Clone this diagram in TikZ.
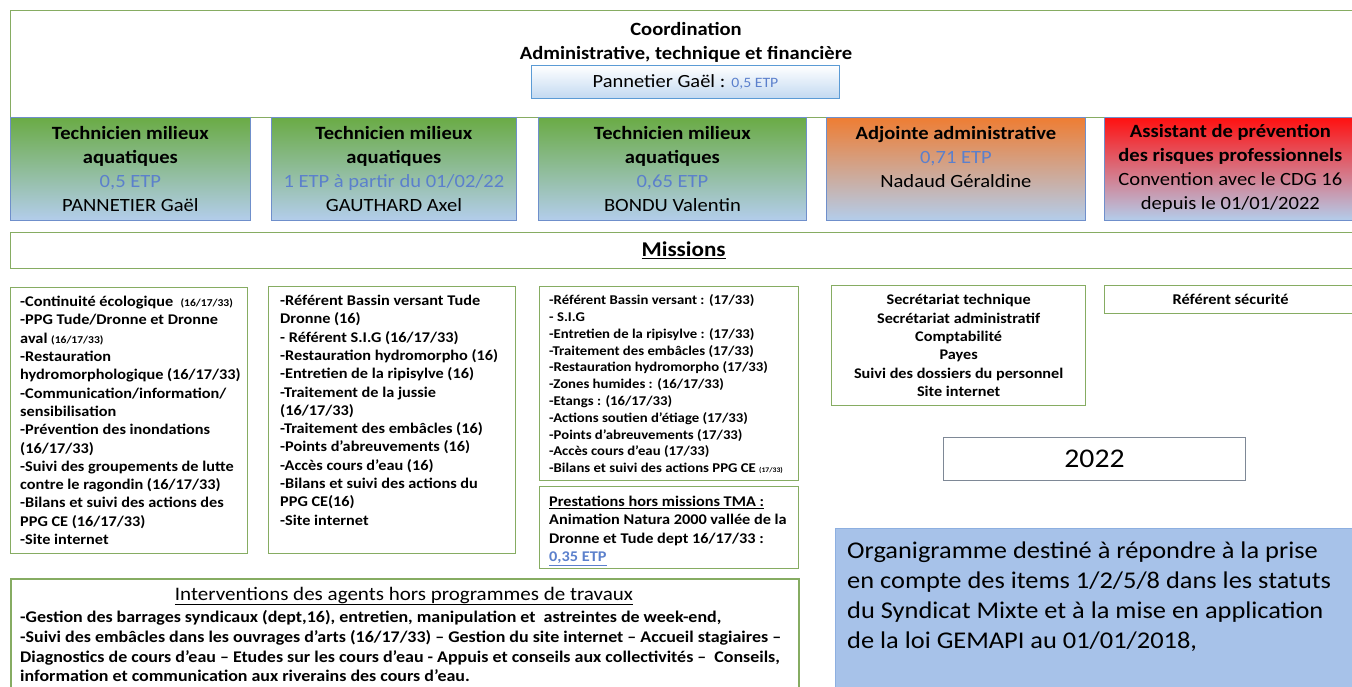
\documentclass[tikz,border=0pt]{standalone}
\usepackage{fontspec}
\setmainfont{Carlito}[FakeStretch=1.1]
\definecolor{cadregreen}{HTML}{86AC62}
\definecolor{roleborder}{HTML}{6F8FCB}
\definecolor{rolegreen}{HTML}{6AAB45}
\definecolor{roleorange}{HTML}{EE7D33}
\definecolor{rolered}{HTML}{FF1010}
\definecolor{rolebleu}{HTML}{B3CDEB}
\definecolor{etpblue}{HTML}{5B80CC}
\definecolor{panborder}{HTML}{5B9BD5}
\definecolor{panbleu}{HTML}{C2D9F1}
\definecolor{notebleu}{HTML}{A7C2E9}
\definecolor{noteborder}{HTML}{8DAFE0}
\definecolor{yeargray}{HTML}{7E8896}
\tikzset{
  cadre/.style={draw=cadregreen, line width=1.3pt, fill=white, anchor=north west, inner sep=0pt},
  role/.style={draw=roleborder, line width=0.8pt, anchor=north west, align=center,
    top color=#1, bottom color=rolebleu, inner sep=0pt, font=\fontsize{18.7}{24}\selectfont},
  listtext/.style={anchor=north west, align=left, inner sep=0pt, font=\bfseries\fontsize{14.8}{18.3}\selectfont},
}
\begin{document}
\begin{tikzpicture}[x=1pt,y=-1pt]
    \fill[white] (0,0) rectangle (1352,686);
    \useasboundingbox (0,0) rectangle (1352,686);

    % Coordination
    \node[cadre, minimum width=1346, minimum height=107] (coord) at (10,10) {};
    \node[align=center, inner sep=0pt, font=\bfseries\fontsize{18.7}{24}\selectfont] (coordtitre) at (686,42)
        {Coordination\\Administrative, technique et financière};
    \node[draw=panborder, line width=1pt, top color=white, bottom color=panbleu, anchor=north west,
        minimum width=308, minimum height=33, font=\fontsize{18.6}{20}\selectfont] (pannetier) at (531,65)
        {Pannetier Gaël : {\color{etpblue}\fontsize{14.3}{20}\selectfont 0,5 ETP}};

    % Postes
    \node[role=rolegreen, minimum width=240, minimum height=103] (tech1) at (10,117)
        {\textbf{Technicien milieux}\\\textbf{aquatiques}\\{\color{etpblue}0,5 ETP}\\PANNETIER Gaël};
    \node[role=rolegreen, minimum width=245, minimum height=103] (tech2) at (271,117)
        {\textbf{Technicien milieux}\\\textbf{aquatiques}\\{\color{etpblue}1 ETP à partir du 01/02/22}\\GAUTHARD Axel};
    \node[role=rolegreen, minimum width=268, minimum height=103] (tech3) at (538,117)
        {\textbf{Technicien milieux}\\\textbf{aquatiques}\\{\color{etpblue}0,65 ETP}\\BONDU Valentin};
    \node[role=roleorange, minimum width=259, minimum height=103] (adjointe) at (826,117)
        {\textbf{Adjointe administrative}\\{\color{etpblue}0,71 ETP}\\Nadaud Géraldine\\~};
    \node[role=rolered, minimum width=252, minimum height=103] (assistant) at (1104,117)
        {\textbf{Assistant de prévention}\\\textbf{des risques professionnels}\\Convention avec le CDG 16\\depuis le 01/01/2022};

    % Missions
    \node[cadre, minimum width=1346, minimum height=36, font=\bfseries\fontsize{21}{22}\selectfont] (missions) at (10,232)
        {\underline{Missions}};

    \node[cadre, minimum width=237, minimum height=266] (miss1) at (10,287) {};
    \node[listtext] (miss1txt) at (20,296)
        {-Continuité écologique\ \ {\fontsize{10.5}{18.3}\selectfont(16/17/33)}\\
        -PPG Tude/Dronne et Dronne\\
        aval {\fontsize{10.5}{18.3}\selectfont(16/17/33)}\\
        -Restauration\\
        hydromorphologique (16/17/33)\\
        -Communication/information/\\
        sensibilisation\\
        -Prévention des inondations\\
        (16/17/33)\\
        -Suivi des groupements de lutte\\
        contre le ragondin (16/17/33)\\
        -Bilans et suivi des actions des\\
        PPG CE (16/17/33)\\
        -Site internet};

    \node[cadre, minimum width=247, minimum height=267] (miss2) at (268,286) {};
    \node[listtext] (miss2txt) at (280,295)
        {-Référent Bassin versant Tude\\
        Dronne (16)\\
        - Référent S.I.G (16/17/33)\\
        -Restauration hydromorpho (16)\\
        -Entretien de la ripisylve (16)\\
        -Traitement de la jussie\\
        (16/17/33)\\
        -Traitement des embâcles (16)\\
        -Points d’abreuvements (16)\\
        -Accès cours d’eau (16)\\
        -Bilans et suivi des actions du\\
        PPG CE(16)\\
        -Site internet};

    \node[cadre, minimum width=259, minimum height=194] (miss3) at (539,286) {};
    \node[listtext, font=\bfseries\fontsize{13.4}{16.8}\selectfont] (miss3txt) at (549,294.5)
        {-Référent Bassin versant : (17/33)\\
        - S.I.G\\
        -Entretien de la ripisylve : (17/33)\\
        -Traitement des embâcles (17/33)\\
        -Restauration hydromorpho (17/33)\\
        -Zones humides : (16/17/33)\\
        -Etangs : (16/17/33)\\
        -Actions soutien d’étiage (17/33)\\
        -Points d’abreuvements (17/33)\\
        -Accès cours d’eau (17/33)\\
        -Bilans et suivi des actions PPG CE {\fontsize{7}{16.8}\selectfont(17/33)}};

    \node[cadre, minimum width=259, minimum height=82] (tma) at (539,486) {};
    \node[listtext] (tmatxt) at (549,496)
        {\underline{Prestations hors missions TMA :}\\
        Animation Natura 2000 vallée de la\\
        Dronne et Tude dept 16/17/33 :\\
        {\color{etpblue}\underline{0,35 ETP}}};

    \node[cadre, minimum width=254, minimum height=120, align=center, font=\bfseries\fontsize{14.75}{18.4}\selectfont] (secretariat) at (831,285)
        {Secrétariat technique\\Secrétariat administratif\\Comptabilité\\Payes\\Suivi des dossiers du personnel\\Site internet};
    \node[cadre, minimum width=252, minimum height=28, font=\bfseries\fontsize{14.9}{16}\selectfont] (securite) at (1104,285)
        {Référent sécurité};

    % Annee
    \node[draw=yeargray, line width=1pt, anchor=north west, minimum width=302, minimum height=43,
        font=\fontsize{27}{30}\selectfont] (annee) at (943,437) {2022};

    % Note
    \node[draw=noteborder, line width=1pt, fill=notebleu, anchor=north west, minimum width=521, minimum height=162] (note) at (835,528) {};
    \node[anchor=north west, align=left, inner sep=0pt, font=\fontsize{24}{30}\selectfont] (notetxt) at (847,542)
        {Organigramme destiné à répondre à la prise\\
        en compte des items 1/2/5/8 dans les statuts\\
        du Syndicat Mixte et à la mise en application\\
        de la loi GEMAPI au 01/01/2018,};

    % Interventions
    \node[cadre, line width=2pt, minimum width=788, minimum height=112] (interv) at (10,578) {};
    \node[inner sep=0pt, font=\fontsize{19.1}{20}\selectfont] (intervtitre) at (404,596)
        {\underline{Interventions des agents hors programmes de travaux}};
    \node[listtext, font=\bfseries\fontsize{16.3}{19.7}\selectfont] (intervtxt) at (20,610.5)
        {-Gestion des barrages syndicaux (dept,16), entretien, manipulation et\ \ astreintes de week-end,\\
        -Suivi des embâcles dans les ouvrages d’arts (16/17/33) – Gestion du site internet – Accueil stagiaires –\\
        Diagnostics de cours d’eau – Etudes sur les cours d’eau - Appuis et conseils aux collectivités –\ \ Conseils,\\
        information et communication aux riverains des cours d’eau.};
\end{tikzpicture}
\end{document}
